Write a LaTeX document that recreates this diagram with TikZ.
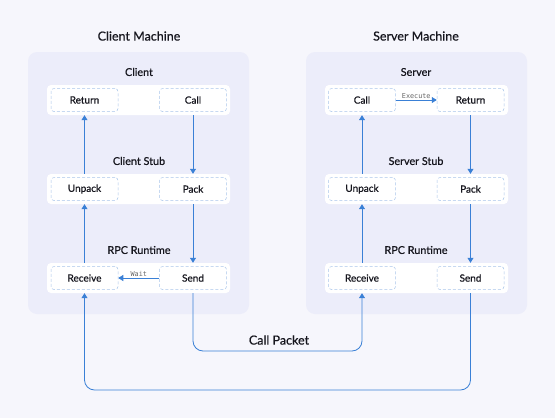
\documentclass[tikz,border=0pt]{standalone}
\usepackage{fontspec}
\setmainfont{Lato}
\setmonofont{DejaVu Sans Mono}
\newfontfamily\medfont{Lato}[FakeBold=0.6]
\usetikzlibrary{arrows.meta,positioning}
\definecolor{bgcol}{HTML}{F6F6FC}
\definecolor{panelcol}{HTML}{ECEDFA}
\definecolor{arrcol}{HTML}{3A80D6}
\definecolor{dashcol}{HTML}{A9C6EA}
\definecolor{txtcol}{HTML}{16161E}
\begin{document}
\begin{tikzpicture}[x=1pt,y=-1pt]

\tikzset{panel/.style={rectangle,rounded corners=9pt,fill=panelcol,minimum width=221pt,minimum height=262pt,inner sep=0pt},}
\tikzset{rowbox/.style={rectangle,rounded corners=4pt,fill=white,minimum width=183pt,minimum height=30pt,inner sep=0pt},}
\tikzset{cell/.style={rectangle,rounded corners=3pt,draw=dashcol,densely dashed,line width=.5pt,fill=white,minimum width=67pt,minimum height=23pt,inner sep=0pt,text=txtcol,font=\medfont\fontsize{10}{11}\selectfont},}
\tikzset{title/.style={text=txtcol,font=\medfont\fontsize{12.5}{14}\selectfont},}
\tikzset{layer/.style={text=txtcol,font=\medfont\fontsize{10.8}{12}\selectfont},}
\tikzset{tag/.style={text=black!60,font=\ttfamily\fontsize{6.8}{7}\selectfont,inner sep=1.5pt},}
\tikzset{arr/.style={draw=arrcol,line width=.8pt,-{Triangle[length=5pt,width=6pt]}},}

\fill[bgcol] (0,0) rectangle (555,418);
\useasboundingbox (0,0) rectangle (555,418);

%MACHINES
\node[title] (cmach) at (139,36) {Client Machine};
\node[title] (smach) at (416,36) {Server Machine};
\node[panel] (cpanel) at (138.5,183) {};
\node[panel] (spanel) at (416.5,183) {};

%CLIENT
\node[layer] (clab1) at (139,72) {Client};
\node[layer] (clab2) at (139,161) {Client Stub};
\node[layer] (clab3) at (139,250) {RPC Runtime};
\node[rowbox] (crow1) at (138.5,100) {};
\node[rowbox] (crow2) at (138.5,189) {};
\node[rowbox] (crow3) at (138.5,278) {};
\node[cell] (creturn) at (84.5,100) {Return};
\node[cell] (ccall) at (193,100) {Call};
\node[cell] (cunpack) at (84.5,189) {Unpack};
\node[cell] (cpack) at (193,189) {Pack};
\node[cell] (creceive) at (84.5,278) {Receive};
\node[cell] (csend) at (193,278) {Send};

%SERVER
\node[layer] (slab1) at (416,72) {Server};
\node[layer] (slab2) at (416,161) {Server Stub};
\node[layer] (slab3) at (416,250) {RPC Runtime};
\node[rowbox] (srow1) at (416.5,100) {};
\node[rowbox] (srow2) at (416.5,189) {};
\node[rowbox] (srow3) at (416.5,278) {};
\node[cell] (scall) at (362,100) {Call};
\node[cell] (sreturn) at (470.5,100) {Return};
\node[cell] (sunpack) at (362,189) {Unpack};
\node[cell] (spack) at (470.5,189) {Pack};
\node[cell] (sreceive) at (362,278) {Receive};
\node[cell] (ssend) at (470.5,278) {Send};

\coordinate (pktlevel) at (0,351);
\coordinate (retlevel) at (0,390);

%ARROWS
\draw[arr] (ccall |- crow1.south) -- (cpack |- crow2.north);
\draw[arr] (cpack |- crow2.south) -- (csend |- crow3.north);
\draw[arr] (cunpack |- crow2.north) -- (creturn |- crow1.south);
\draw[arr] (creceive |- crow3.north) -- (cunpack |- crow2.south);
\draw[arr,line width=.6pt] (csend.west) -- node[tag,above] {Wait} (creceive.east);

\draw[arr] (sreturn |- srow1.south) -- (spack |- srow2.north);
\draw[arr] (spack |- srow2.south) -- (ssend |- srow3.north);
\draw[arr] (sunpack |- srow2.north) -- (scall |- srow1.south);
\draw[arr] (sreceive |- srow3.north) -- (sunpack |- srow2.south);
\draw[arr,line width=.6pt] (scall.east) -- node[tag,above] {Execute} (sreturn.west);

\draw[arr,rounded corners=10pt] (csend |- crow3.south) -- (csend |- pktlevel) -- (sreceive |- pktlevel) -- (sreceive |- srow3.south);
\node[title,fill=bgcol,inner sep=1pt] (pktlab) at (279,340) {Call Packet};
\draw[arr,rounded corners=10pt] (ssend |- srow3.south) -- (ssend |- retlevel) -- (creceive |- retlevel) -- (creceive |- crow3.south);

\end{tikzpicture}
\end{document}
